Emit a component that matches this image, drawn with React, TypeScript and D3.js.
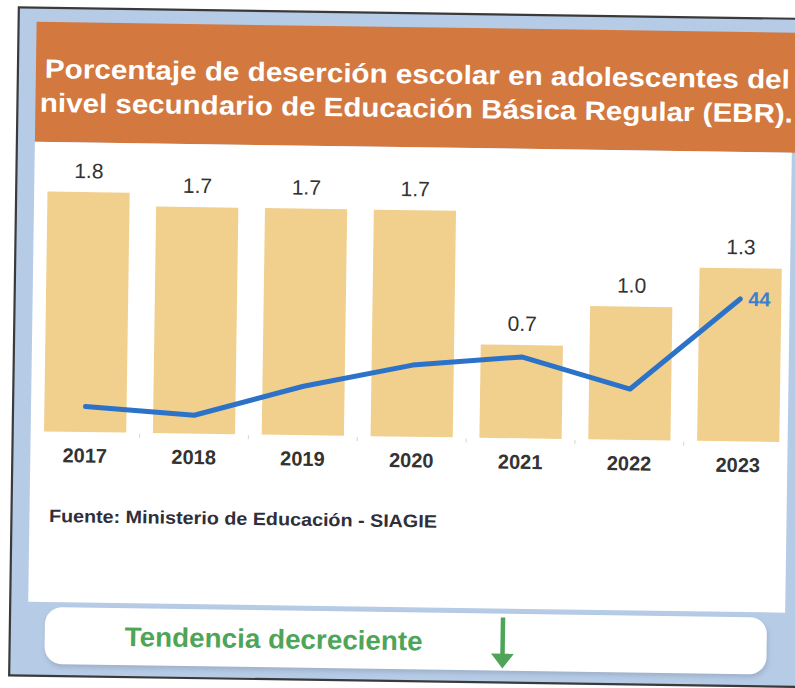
import * as d3 from "d3";

const WIDTH = 795;
const HEIGHT = 688;

// chart data
const YEARS = ["2017", "2018", "2019", "2020", "2021", "2022", "2023"];
const DROPOUT_RATE = [1.8, 1.7, 1.7, 1.7, 0.7, 1.0, 1.3];
const TREND_LINE = [26, 24.9, 29.6, 33.1, 34.6, 29.9, 44];
const TITLE_LINES = [
  "Porcentaje de deserción escolar en adolescentes del",
  "nivel secundario de Educación Básica Regular (EBR).",
];
const SOURCE = "Fuente: Ministerio de Educación - SIAGIE";
const TREND_TEXT = "Tendencia decreciente";

const COLORS = {
  frame: "#3a3a3a",
  backdrop: "#b6cbe6",
  title: "#d3783f",
  bar: "#f1cf8d",
  line: "#2b72c8",
  lineLabel: "#3b7fd0",
  text: "#333333",
  green: "#4fa557",
};

const FONT = "'Liberation Sans', Arial, sans-serif";

export default function App() {
  const x = d3
    .scaleBand<string>()
    .domain(YEARS)
    .range([32, 794])
    .paddingInner(0.245)
    .paddingOuter(0.1225);

  const yBar = d3.scaleLinear().domain([0, 2]).range([436.5, 170]);
  const yLine = d3.scaleLinear().domain([0, 44]).range([580, 294]);

  const cx = (year: string) => (x(year) ?? 0) + x.bandwidth() / 2;

  const linePath =
    d3
      .line<number>()
      .x((_, i) => cx(YEARS[i]))
      .y((d) => yLine(d))(TREND_LINE) ?? "";

  const boundaries = YEARS.slice(1).map((year) => (x(year) ?? 0) - (x.step() - x.bandwidth()) / 2);
  const lastIndex = YEARS.length - 1;

  return (
    <svg
      width={WIDTH}
      height={HEIGHT}
      viewBox={`0 0 ${WIDTH} ${HEIGHT}`}
      style={{ position: "absolute", left: 0, top: 0, display: "block", background: "#ffffff" }}
      fontFamily={FONT}
    >
      <defs>
        <filter id="pillShadow" x="-5%" y="-30%" width="110%" height="180%">
          <feGaussianBlur stdDeviation="2.5" />
        </filter>
      </defs>

      {/* the scan is slightly tilted clockwise */}
      <g transform="rotate(0.83, 397, 344)">
        <rect x={14} y={13} width={820} height={668} fill={COLORS.backdrop} stroke={COLORS.frame} strokeWidth={2.2} />

        <rect x={32} y={27} width={800} height={120} fill={COLORS.title} />
        <rect x={32} y={147} width={757} height={460} fill="#ffffff" />

        {TITLE_LINES.map((line, i) => (
          <text
            key={line}
            x={i === 0 ? 41 : 36.5}
            y={i === 0 ? 83 : 117}
            fill="#ffffff"
            fontSize={26.5}
            fontWeight="bold"
            textLength={i === 0 ? 745 : 753}
            lengthAdjust="spacingAndGlyphs"
          >
            {line}
          </text>
        ))}

        {YEARS.map((year, i) => (
          <rect
            key={year}
            x={x(year)}
            y={yBar(DROPOUT_RATE[i])}
            width={x.bandwidth()}
            height={yBar(0) - yBar(DROPOUT_RATE[i])}
            fill={COLORS.bar}
          />
        ))}

        {boundaries.map((bx) => (
          <line key={bx} x1={bx} x2={bx} y1={yBar(0) + 1} y2={yBar(0) + 5} stroke="#d4d4d4" strokeWidth={1} />
        ))}

        {YEARS.map((year, i) => (
          <text
            key={`v${year}`}
            x={cx(year)}
            y={yBar(DROPOUT_RATE[i]) - 14}
            textAnchor="middle"
            fontSize={21}
            fill={COLORS.text}
          >
            {DROPOUT_RATE[i].toFixed(1)}
          </text>
        ))}

        <path
          d={linePath}
          fill="none"
          stroke={COLORS.line}
          strokeWidth={5}
          strokeLinejoin="round"
          strokeLinecap="round"
        />

        <text
          x={cx(YEARS[lastIndex]) + 8}
          y={yLine(TREND_LINE[lastIndex]) + 7}
          fontSize={20}
          fontWeight="bold"
          fill={COLORS.lineLabel}
        >
          {TREND_LINE[lastIndex]}
        </text>

        {YEARS.map((year) => (
          <text
            key={`t${year}`}
            x={cx(year)}
            y={467}
            textAnchor="middle"
            fontSize={20}
            fontWeight="bold"
            fill={COLORS.text}
          >
            {year}
          </text>
        ))}

        <text x={51.5} y={527} fontSize={18} fontWeight="bold" fill="#2f2f3a" textLength={388} lengthAdjust="spacingAndGlyphs">
          {SOURCE}
        </text>

        <rect x={50} y={615} width={722} height={57} rx={17} fill="#7f8fa6" opacity={0.45} filter="url(#pillShadow)" />
        <rect x={49} y={612} width={722} height={57} rx={17} fill="#ffffff" />

        <text x={129} y={650} fontSize={27} fontWeight="bold" fill={COLORS.green} textLength={298} lengthAdjust="spacingAndGlyphs">
          {TREND_TEXT}
        </text>

        <line x1={507} x2={507} y1={616} y2={656} stroke={COLORS.green} strokeWidth={4.5} />
        <path d="M495.5,652 L518.5,652 L507,667 Z" fill={COLORS.green} />
      </g>
    </svg>
  );
}
